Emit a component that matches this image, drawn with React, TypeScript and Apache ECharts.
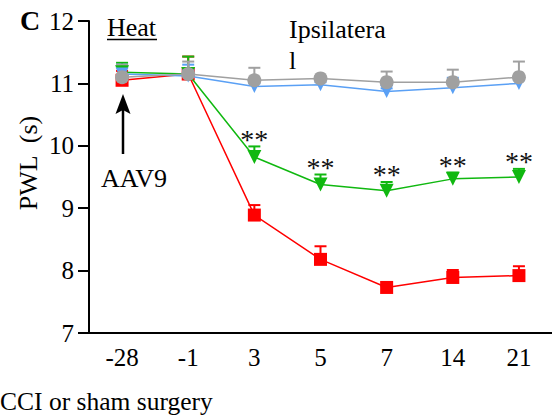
import React, { useEffect, useRef } from "react";
import * as echarts from "echarts";

const days = ["-28", "-1", "3", "5", "7", "14", "21"];
const yTicks = [7, 8, 9, 10, 11, 12];

const redMean = [11.05, 11.15, 8.89, 8.18, 7.73, 7.89, 7.92];
const redSem = [0.15, 0.28, 0.16, 0.21, 0.02, 0.12, 0.15];
const greenMean = [11.18, 11.15, 9.82, 9.38, 9.28, 9.47, 9.5];
const greenSem = [0.15, 0.28, 0.17, 0.16, 0.14, 0.1, 0.13];
const blueMean = [11.15, 11.12, 10.95, 10.98, 10.87, 10.93, 11.0];
const blueSem = [0.15, 0.18, 0.05, 0.04, 0.05, 0.16, 0.05];
const grayMean = [11.1, 11.15, 11.05, 11.08, 11.02, 11.02, 11.1];
const graySem = [0.2, 0.2, 0.2, 0.04, 0.17, 0.2, 0.25];

const sigLabels = ["", "", "**", "**", "**", "**", "**"];

const FONT = "Liberation Serif";
const RED = "#ff0000";
const GREEN = "#10b810";
const BLUE = "#5aa0f5";
const GRAY = "#a0a0a0";

function errSeries(mean: number[], sem: number[], color: string, z: number) {
  return {
    type: "custom",
    z,
    data: mean.map((m, i) => [i, m, m + sem[i]]),
    renderItem: (params: any, api: any) => {
      const x = api.coord([api.value(0), api.value(1)]);
      const top = api.coord([api.value(0), api.value(2)]);
      const hw = 6;
      return {
        type: "group",
        children: [
          { type: "line", shape: { x1: x[0], y1: x[1], x2: top[0], y2: top[1] }, style: { stroke: color, lineWidth: 2 } },
          { type: "line", shape: { x1: top[0] - hw, y1: top[1], x2: top[0] + hw, y2: top[1] }, style: { stroke: color, lineWidth: 2 } },
        ],
      };
    },
  };
}

function lineSeries(name: string, mean: number[], color: string, symbol: string, size: number, rotate: number, z: number) {
  return {
    name,
    type: "line",
    z,
    data: mean,
    symbol,
    symbolSize: size,
    symbolRotate: rotate,
    showAllSymbol: true,
    lineStyle: { color, width: 1.5 },
    itemStyle: { color, borderWidth: 0 },
  };
}

function txt(text: string, size: number, extra: any = {}) {
  return { text, fill: "#000", fontFamily: FONT, fontSize: size, ...extra };
}

export default function App() {
  const ref = useRef<HTMLDivElement>(null);
  useEffect(() => {
    if (!ref.current) return;
    const chart = echarts.init(ref.current, null, { renderer: "svg" });
    chart.setOption({
      animation: false,
      textStyle: { fontFamily: FONT },
      grid: { left: 89, top: 21, bottom: 86, right: -5 },
      xAxis: {
        type: "category",
        data: days,
        boundaryGap: true,
        axisLine: { lineStyle: { color: "#000", width: 2 } },
        axisTick: { alignWithLabel: true, length: 10, lineStyle: { color: "#000", width: 2 } },
        axisLabel: { color: "#000", fontFamily: FONT, fontSize: 25, margin: 12 },
      },
      yAxis: {
        type: "value",
        min: yTicks[0],
        max: yTicks[yTicks.length - 1],
        interval: 1,
        splitLine: { show: false },
        axisLine: { show: true, lineStyle: { color: "#000", width: 2 } },
        axisTick: { show: true, length: 11, lineStyle: { color: "#000", width: 2 } },
        axisLabel: { color: "#000", fontFamily: FONT, fontSize: 25, margin: 15 },
      },
      series: [
        errSeries(redMean, redSem, RED, 1),
        errSeries(greenMean, greenSem, GREEN, 1),
        errSeries(blueMean, blueSem, BLUE, 1),
        errSeries(grayMean, graySem, GRAY, 1),
        lineSeries("red", redMean, RED, "rect", 13, 0, 2),
        lineSeries("green", greenMean, GREEN, "triangle", 14, 180, 3),
        lineSeries("blue", blueMean, BLUE, "triangle", 13, 180, 4),
        lineSeries("gray", grayMean, GRAY, "circle", 14, 0, 5),
        {
          type: "custom",
          z: 6,
          data: greenMean.map((m, i) => [i, m + greenSem[i]]),
          renderItem: (params: any, api: any) => {
            const p = api.coord([api.value(0), api.value(1)]);
            const t = sigLabels[params.dataIndex];
            if (!t) return null;
            return {
              type: "text",
              x: p[0],
              y: p[1] + 7,
              style: txt(t, 28, { align: "center", verticalAlign: "bottom", fill: "#111" }),
            };
          },
        },
      ],
      graphic: [
        { type: "text", left: 20, top: 6, style: txt("C", 28, { fontWeight: "bold" }) },
        { type: "text", left: 107, top: 14, style: txt("Heat", 26) },
        { type: "line", shape: { x1: 107, y1: 39.5, x2: 157, y2: 39.5 }, style: { stroke: "#000", lineWidth: 1.5 } },
        { type: "text", left: 289, top: 14, style: txt("Ipsilatera\nl", 26, { lineHeight: 31 }) },
        { type: "text", left: 101, top: 165, style: txt("AAV9", 26) },
        { type: "line", shape: { x1: 123, y1: 154, x2: 123, y2: 108 }, style: { stroke: "#000", lineWidth: 2.5 } },
        { type: "polygon", shape: { points: [[123, 94], [115.5, 114], [123, 110], [130.5, 114]] }, style: { fill: "#000" } },
        { type: "text", x: 28, y: 163, rotation: Math.PI / 2, style: txt("PWL  (s)", 26, { align: "center", verticalAlign: "middle" }) },
        { type: "text", left: 0, top: 388, style: txt("CCI or sham surgery", 25.5) },
      ],
    });
    return () => chart.dispose();
  }, []);
  return <div ref={ref} style={{ width: 552, height: 419, position: "absolute", left: 0, top: 0 }} />;
}
